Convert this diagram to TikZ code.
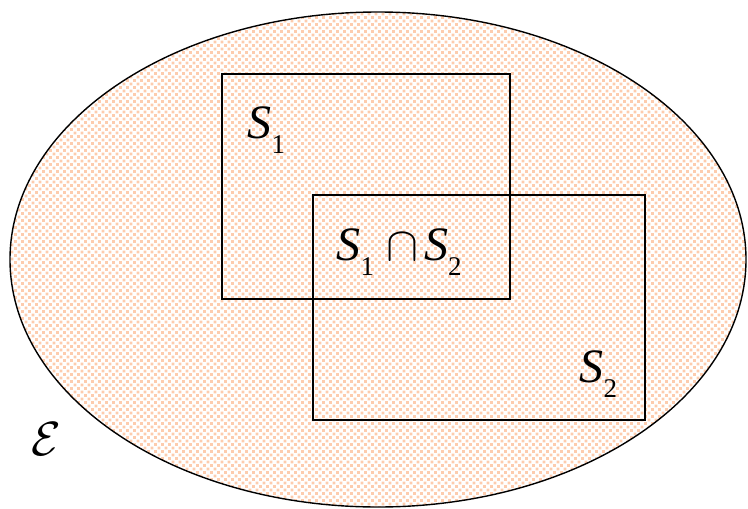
\documentclass[tikz,border=0pt]{standalone}
\usepackage{fontspec}
\setmainfont{Liberation Serif}
\usetikzlibrary{patterns}

\definecolor{peach}{RGB}{253,204,174}
\pgfdeclarepatternformonly{peachdots}{\pgfqpoint{-1pt}{-1pt}}{\pgfqpoint{8pt}{8pt}}{\pgfqpoint{7pt}{7pt}}{%
  \pgfpathrectangle{\pgfqpoint{0pt}{0pt}}{\pgfqpoint{2.8pt}{2.8pt}}%
  \pgfpathrectangle{\pgfqpoint{3.5pt}{3.5pt}}{\pgfqpoint{2.8pt}{2.8pt}}%
  \pgfusepath{fill}}

\newcommand{\setS}[1]{\textit{S}\raisebox{-0.32em}{\fontsize{27}{27}\selectfont #1}}
\newcommand{\bigmath}[1]{\scalebox{4.8}{\normalsize$#1$}}

\begin{document}
\begin{tikzpicture}[x=1pt,y=-1pt,line width=1.4pt,
  lbl/.style={anchor=base west,inner sep=0pt,font=\fontsize{48}{50}\selectfont}]
  \useasboundingbox (0,0) rectangle (748,509);
  % Sample space
  \draw[pattern=peachdots,pattern color=peach] (378,259.5) ellipse (368 and 247.5);
  % Events
  \draw (222,74) rectangle (510,299);
  \draw (313,195) rectangle (645,420);
  % Labels
  \node[lbl] (s1) at (247,138) {\setS{1}};
  \node[lbl] (s12) at (336,260) {\setS{1}\hspace{12pt}\bigmath{\cap}\hspace{6pt}\setS{2}};
  \node[lbl] (s2) at (579,382) {\setS{2}};
  \node[lbl] (e) at (31,455) {\bigmath{\mathcal{E}}};
\end{tikzpicture}
\end{document}
